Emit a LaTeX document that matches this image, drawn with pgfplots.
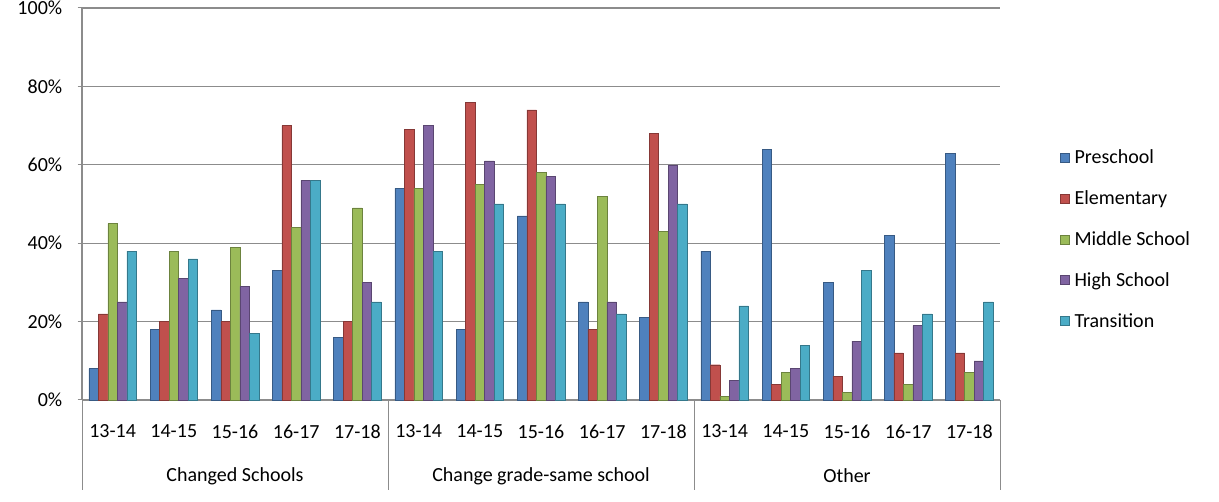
\documentclass[border=0pt]{standalone}
\usepackage{pgfplots}
\pgfplotsset{compat=1.18}
\usepackage{pgfplotstable}
\usepackage{fontspec}
\setmainfont{Carlito}
\usetikzlibrary{calc}

\definecolor{cPre}{HTML}{4F81BD}
\definecolor{cEle}{HTML}{C0504D}
\definecolor{cMid}{HTML}{9BBB59}
\definecolor{cHigh}{HTML}{8064A2}
\definecolor{cTra}{HTML}{4BACC6}
\definecolor{gridgray}{HTML}{8C8C8C}

% x: 0-4 Changed Schools, 5-9 Change grade-same school, 10-14 Other
\pgfplotstableread{
x  P  E  M  H  T
0  8  22 45 25 38
1  18 20 38 31 36
2  23 20 39 29 17
3  33 70 44 56 56
4  16 20 49 30 25
5  54 69 54 70 38
6  18 76 55 61 50
7  47 74 58 57 50
8  25 18 52 25 22
9  21 68 43 60 50
10 38 9  1  5  24
11 64 4  7  8  14
12 30 6  2  15 33
13 42 12 4  19 22
14 63 12 7  10 25
}\data

\begin{document}
\begin{tikzpicture}[font=\fontsize{20}{24}\selectfont]
\begin{axis}[
    name=ax,
    scale only axis,
    width=918pt, height=392pt,
    xmin=-0.5, xmax=14.5,
    ymin=0, ymax=100,
    ybar=0pt, bar width=9.5pt,
    xtick={0,...,14},
    xticklabels={13-14,14-15,15-16,16-17,17-18,13-14,14-15,15-16,16-17,17-18,13-14,14-15,15-16,16-17,17-18},
    xticklabel style={yshift=-17pt},
    major x tick style={draw=none},
    ytick={0,20,40,60,80,100},
    yticklabels={0\%,20\%,40\%,60\%,80\%,100\%},
    yticklabel style={xshift=-12pt},
    major y tick style={draw=gridgray, line width=1pt},
    tick align=outside,
    ymajorgrids,
    major grid style={draw=gridgray, line width=1.3pt},
    axis x line*=bottom,
    axis y line*=left,
    axis line style={draw=gridgray, line width=1.3pt, -},
    clip=false,
    legend cell align=left,
    legend style={at={(1.062,0.41)}, anchor=west, draw=none, fill=none,
        row sep=21.5pt, font=\fontsize{20}{24}\selectfont,
        nodes={inner xsep=5pt}},
    legend image code/.code={\fill[#1] (0pt,-4.5pt) rectangle (9pt,4.5pt);},
]
\addplot[fill=cPre, draw=cPre!70!black] table[x=x, y=P] \data;
\addplot[fill=cEle, draw=cEle!70!black] table[x=x, y=E] \data;
\addplot[fill=cMid, draw=cMid!70!black] table[x=x, y=M] \data;
\addplot[fill=cHigh, draw=cHigh!70!black] table[x=x, y=H] \data;
\addplot[fill=cTra, draw=cTra!70!black] table[x=x, y=T] \data;
\legend{Preschool, Elementary, Middle School, High School, Transition}

\pgfplotsinvokeforeach{-0.5,4.5,9.5,14.5}{
    \draw[gridgray, line width=0.8pt] (axis cs:#1,0) -- ++(0pt,-90pt);
}
\node at (axis cs:2,0) [yshift=-76pt] {Changed Schools};
\node at (axis cs:7,0) [yshift=-76pt] {Change grade-same school};
\node at (axis cs:12,0) [yshift=-76pt] {Other};
\end{axis}
\pgfresetboundingbox
\path[use as bounding box] (ax.south west) ++(-82pt,-102pt) rectangle ($(ax.south west)+(1137pt,400pt)$);
\end{tikzpicture}
\end{document}
